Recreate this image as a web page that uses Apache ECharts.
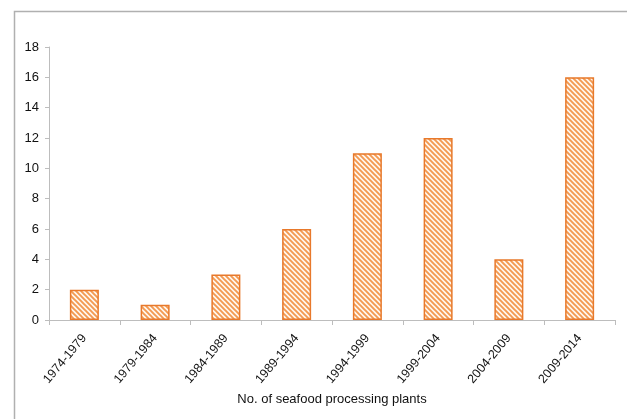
<!DOCTYPE html>
<html>
<head>
<meta charset="utf-8">
<script src="https://cdn.jsdelivr.net/npm/echarts@6/dist/echarts.min.js"></script>
<style>
html,body{margin:0;padding:0;background:#fff;}
#chart{width:627px;height:419px;}
</style>
</head>
<body>
<div id="chart"></div>
<script>
var categories = ['1974-1979','1979-1984','1984-1989','1989-1994','1994-1999','1999-2004','2004-2009','2009-2014'];
var plants = [2, 1, 3, 6, 11, 12, 4, 16];
var yTicks = {min: 0, max: 18, interval: 2};
var xTitle = 'No. of seafood processing plants';

function hatch() {
  var c = document.createElement('canvas');
  var s = 5;
  c.width = s; c.height = s;
  var ctx = c.getContext('2d');
  ctx.fillStyle = '#fff7ef';
  ctx.fillRect(0, 0, s, s);
  ctx.strokeStyle = '#f39a52';
  ctx.lineWidth = 1.9;
  ctx.beginPath();
  ctx.moveTo(-1, -1); ctx.lineTo(s + 1, s + 1);
  ctx.moveTo(-1 - s, -1); ctx.lineTo(1, s + 1);
  ctx.moveTo(s - 1, -1); ctx.lineTo(2 * s + 1, s + 1);
  ctx.stroke();
  return c;
}

var chart = echarts.init(document.getElementById('chart'), null, {renderer: 'canvas'});
chart.setOption({
  animation: false,
  backgroundColor: '#ffffff',
  graphic: [{
    type: 'rect',
    left: 12, top: 9,
    shape: {width: 700, height: 500},
    style: {fill: 'none', stroke: '#b0b0b0', lineWidth: 1.5},
    silent: true
  }],
  grid: {left: 49, right: 12, top: 47, bottom: 99, containLabel: false},
  xAxis: {
    type: 'category',
    data: categories,
    name: xTitle,
    nameLocation: 'middle',
    nameGap: 73,
    nameTextStyle: {fontFamily: 'Liberation Sans, Arial', fontSize: 13, color: '#111'},
    axisLine: {show: true, lineStyle: {color: '#bdbdbd', width: 1}},
    axisTick: {show: true, length: 5, alignWithLabel: false, lineStyle: {color: '#bdbdbd'}},
    axisLabel: {rotate: 50, margin: 16, fontFamily: 'Liberation Sans, Arial', fontSize: 12.5, color: '#111', interval: 0}
  },
  yAxis: {
    type: 'value',
    min: yTicks.min, max: yTicks.max, interval: yTicks.interval,
    axisLine: {show: true, lineStyle: {color: '#bdbdbd', width: 1}},
    axisTick: {show: true, length: 4, lineStyle: {color: '#bdbdbd'}},
    splitLine: {show: false},
    axisLabel: {margin: 10, fontFamily: 'Liberation Sans, Arial', fontSize: 13, color: '#111'}
  },
  series: [{
    type: 'bar',
    data: plants,
    barWidth: '41%',
    itemStyle: {
      color: {image: hatch(), repeat: 'repeat'},
      borderColor: '#e8792b',
      borderWidth: 1.5
    }
  }]
});
</script>
</body>
</html>
